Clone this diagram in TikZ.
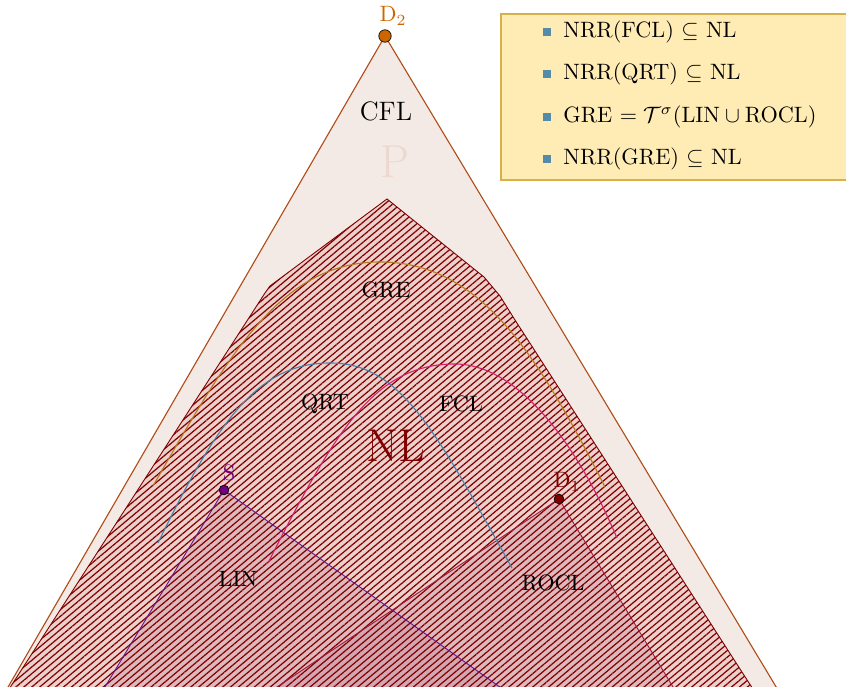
\documentclass[tikz,border=0pt]{standalone}
\usetikzlibrary{patterns.meta}
\definecolor{cflfill}{RGB}{243,234,229}
\definecolor{cfledge}{RGB}{176,76,24}
\definecolor{nlfill}{RGB}{235,208,203}
\definecolor{nlhatch}{RGB}{128,0,0}
\definecolor{nldark}{RGB}{128,0,0}
\definecolor{linedge}{RGB}{100,20,140}
\definecolor{trifill}{RGB}{185,120,150}
\definecolor{rocledge}{RGB}{160,20,60}
\definecolor{grecol}{RGB}{184,120,30}
\definecolor{qrtcol}{RGB}{70,130,170}
\definecolor{fclcol}{RGB}{215,30,110}
\definecolor{pcol}{RGB}{236,216,206}
\definecolor{legfill}{RGB}{255,236,181}
\definecolor{legedge}{RGB}{214,176,72}
\definecolor{bulletcol}{RGB}{84,140,168}
\definecolor{dtwo}{RGB}{204,102,0}
\definecolor{spurple}{RGB}{112,0,128}
\tikzset{
  region label/.style={font=\normalsize, text=black},
  point/.style={circle, draw=black, line width=0.3pt, inner sep=0pt, minimum size=#1},
  curve/.style={line width=0.5pt},
  legend item/.style={anchor=west, inner sep=0pt, font=\normalsize},
  legend bullet/.style={fill=bulletcol, minimum size=4pt, inner sep=0pt},
}
\begin{document}
\begin{tikzpicture}[x=0.45pt, y=-0.45pt]
\useasboundingbox (0,0) rectangle (846,687);
\clip (0,0) rectangle (846,687);

% the class CFL
\fill[cflfill] (385,36) -- (796,720) -- (-11,720) -- cycle;
\draw[cfledge, line width=0.5pt] (-11,720) -- (385,36) -- (796,720);
\node[text=pcol, font=\huge] (p) at (395,162) {P};
\node[font=\large] (cfl) at (386,111) {CFL};

% the class NL, hatched
\path[fill=nlfill] (387,199) -- (484,277) -- (500,296) -- (515,320) -- (760,700)
  -- (2,700) -- (265,293) -- (270,286) -- cycle;

% LIN and ROCL regions
\fill[trifill, opacity=0.27] (224,490) -- (539,715) -- (88,715) -- cycle;
\fill[trifill, opacity=0.27] (559,499) -- (690,715) -- (235,715) -- cycle;

\path[pattern={Lines[angle=40, distance=2.3pt, line width=0.55pt]}, pattern color=nlhatch]
  (387,199) -- (484,277) -- (500,296) -- (515,320) -- (760,700)
  -- (2,700) -- (265,293) -- (270,286) -- cycle;
\draw[nldark, line width=0.4pt] (760,700) -- (515,320) -- (500,296) -- (484,277)
  -- (387,199) -- (270,286) -- (265,293) -- (2,700);

\draw[linedge, line width=0.4pt] (88,715) -- (224,490) -- (539,715);
\draw[rocledge, line width=0.4pt] (235,715) -- (559,499) -- (690,715);

% GRE
\draw[grecol, curve] (153,486) .. controls (228,356) and (280,262) .. (380,262)
  .. controls (480,262) and (537,353) .. (605,487);
% QRT
\draw[qrtcol, curve] (158,543) .. controls (219,417) and (260,363) .. (330,363)
  .. controls (400,363) and (434,428) .. (512,568);
% FCL
\draw[fclcol, curve] (268,563) .. controls (336,429) and (375,364) .. (455,364)
  .. controls (515,364) and (574,437) .. (617,538);

% labels of the classes
\node[region label] (gre) at (386,290) {GRE};
\node[region label] (qrt) at (325,404) {QRT};
\node[region label] (fcl) at (461,404) {FCL};
\node[text=nldark, font=\huge] (nl) at (396,446) {NL};
\node[region label] (lin) at (238,579) {LIN};
\node[region label] (rocl) at (553,583) {ROCL};

% distinguished points
\node[point=5.6pt, fill=dtwo] (d2) at (385,36) {};
\node[text=dtwo, inner sep=0pt] (d2l) at (393,16) {$\mathrm{D}_2$};
\node[point=4.4pt, fill=spurple] (s) at (224,490) {};
\node[text=spurple, inner sep=0pt] (sl) at (229,473) {S};
\node[point=4.4pt, fill=nldark] (d1) at (559,499) {};
\node[text=nldark, inner sep=0pt] (d1l) at (567,482) {$\mathrm{D}_1$};

% legend
\draw[fill=legfill, draw=legedge, line width=0.5pt] (501,14) rectangle (860,180);
\node[legend bullet] (b1) at (547,32) {};
\node[legend item] (t1) at (563,32) {NRR(FCL) $\subseteq$ NL};
\node[legend bullet] (b2) at (547,74) {};
\node[legend item] (t2) at (563,74) {NRR(QRT) $\subseteq$ NL};
\node[legend bullet] (b3) at (547,117) {};
\node[legend item] (t3) at (563,117) {GRE $=\mathcal{T}^{\sigma}(\mathrm{LIN}\cup\mathrm{ROCL})$};
\node[legend bullet] (b4) at (547,159) {};
\node[legend item] (t4) at (563,159) {NRR(GRE) $\subseteq$ NL};
\end{tikzpicture}
\end{document}
